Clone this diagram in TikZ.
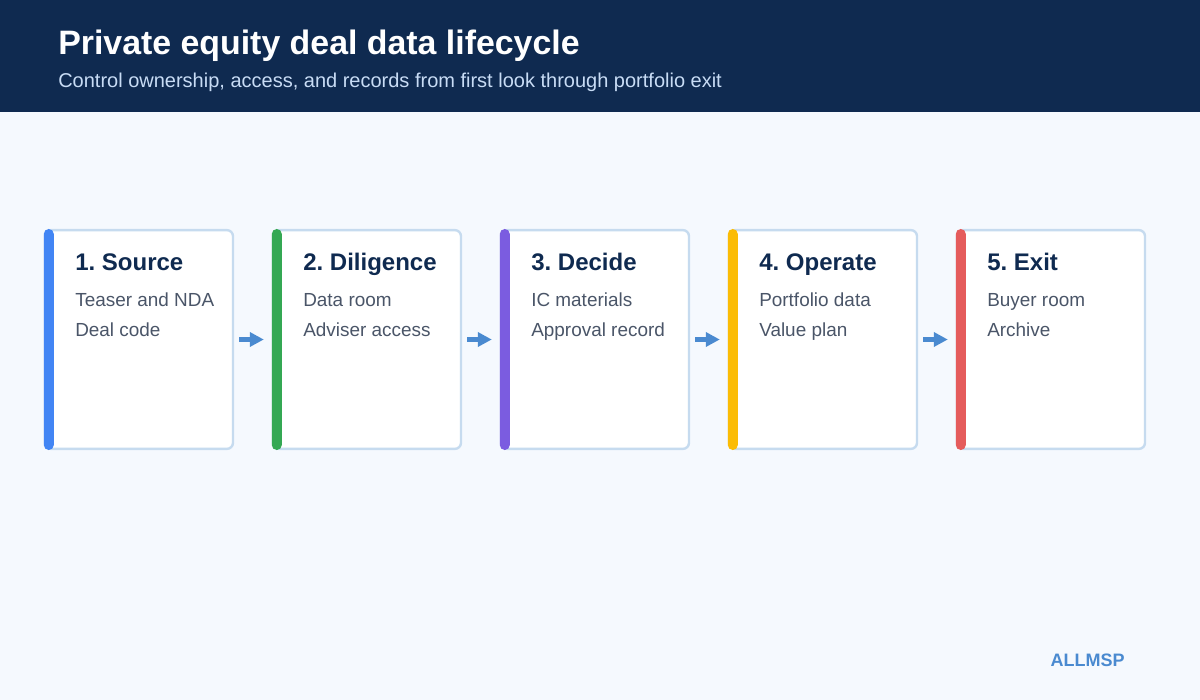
\documentclass[tikz,border=0pt]{standalone}
\usepackage{fontspec}
\setmainfont{Liberation Sans}
\usetikzlibrary{arrows.meta}
\frenchspacing
\definecolor{navy}{HTML}{0F2A50}
\definecolor{pagebg}{HTML}{F5F9FE}
\definecolor{cardline}{HTML}{C6DBEF}
\definecolor{subtext}{HTML}{C8DCF5}
\definecolor{bodytext}{HTML}{4A5568}
\definecolor{flowblue}{HTML}{4A8AD0}
\definecolor{barblue}{HTML}{4285F4}
\definecolor{bargreen}{HTML}{34A853}
\definecolor{barpurple}{HTML}{7B5CE0}
\definecolor{baryellow}{HTML}{FBBC05}
\definecolor{barred}{HTML}{E55C5C}

\begin{document}
\begin{tikzpicture}[x=0.75pt, y=-0.75pt]
        \tikzstyle{card}=[draw=cardline, line width=1.8pt, fill=white, rounded corners=4.5pt, minimum width=141pt, minimum height=164pt]
        \tikzstyle{stage}=[anchor=base west, inner sep=0pt, text=navy, font=\fontsize{18}{22}\selectfont\bfseries]
        \tikzstyle{item}=[anchor=base west, inner sep=0pt, text=bodytext, font=\fontsize{14.2}{17}\selectfont]
        \tikzstyle{flow}=[draw=flowblue, line width=3.75pt, -{Triangle[length=10.5pt, width=10.5pt]}, shorten <=3.75pt, shorten >=6pt]
        \fill[pagebg] (0,0) rectangle (1200,700);
        \fill[navy] (0,0) rectangle (1200,112);
        \node (title) [anchor=base west, inner sep=0pt, text=white, font=\fontsize{25.4}{30}\selectfont\bfseries] at (58,54) {Private equity deal data lifecycle};
        \node (subtitle) [anchor=base west, inner sep=0pt, text=subtext, font=\fontsize{15}{18}\selectfont] at (58,87) {Control ownership, access, and records from first look through portfolio exit};
        % stage cards
        \node (s1) [card] at (139,339.5) {};
        \node (s2) [card] at (367,339.5) {};
        \node (s3) [card] at (595,339.5) {};
        \node (s4) [card] at (823,339.5) {};
        \node (s5) [card] at (1051,339.5) {};
        \fill[barblue, rounded corners=3.75pt] (s1.north west) rectangle ([xshift=7.5pt]s1.south west);
        \fill[bargreen, rounded corners=3.75pt] (s2.north west) rectangle ([xshift=7.5pt]s2.south west);
        \fill[barpurple, rounded corners=3.75pt] (s3.north west) rectangle ([xshift=7.5pt]s3.south west);
        \fill[baryellow, rounded corners=3.75pt] (s4.north west) rectangle ([xshift=7.5pt]s4.south west);
        \fill[barred, rounded corners=3.75pt] (s5.north west) rectangle ([xshift=7.5pt]s5.south west);
        \node (t1) [stage] at (75,270) {1. Source};
        \node (a1) [item] at (75,306) {Teaser and NDA};
        \node (b1) [item] at (75,336) {Deal code};
        \node (t2) [stage] at (303,270) {2. Diligence};
        \node (a2) [item] at (303,306) {Data room};
        \node (b2) [item] at (303,336) {Adviser access};
        \node (t3) [stage] at (531,270) {3. Decide};
        \node (a3) [item] at (531,306) {IC materials};
        \node (b3) [item] at (531,336) {Approval record};
        \node (t4) [stage] at (759,270) {4. Operate};
        \node (a4) [item] at (759,306) {Portfolio data};
        \node (b4) [item] at (759,336) {Value plan};
        \node (t5) [stage] at (987,270) {5. Exit};
        \node (a5) [item] at (987,306) {Buyer room};
        \node (b5) [item] at (987,336) {Archive};
        % flow between stages
        \draw[flow] (s1.east) -- (s2.west);
        \draw[flow] (s2.east) -- (s3.west);
        \draw[flow] (s3.east) -- (s4.west);
        \draw[flow] (s4.east) -- (s5.west);
        \node (logo) [anchor=base east, inner sep=0pt, text=flowblue, font=\fontsize{13.5}{16}\selectfont\bfseries] at (1125,666) {ALLMSP};
    \end{tikzpicture}
\end{document}
